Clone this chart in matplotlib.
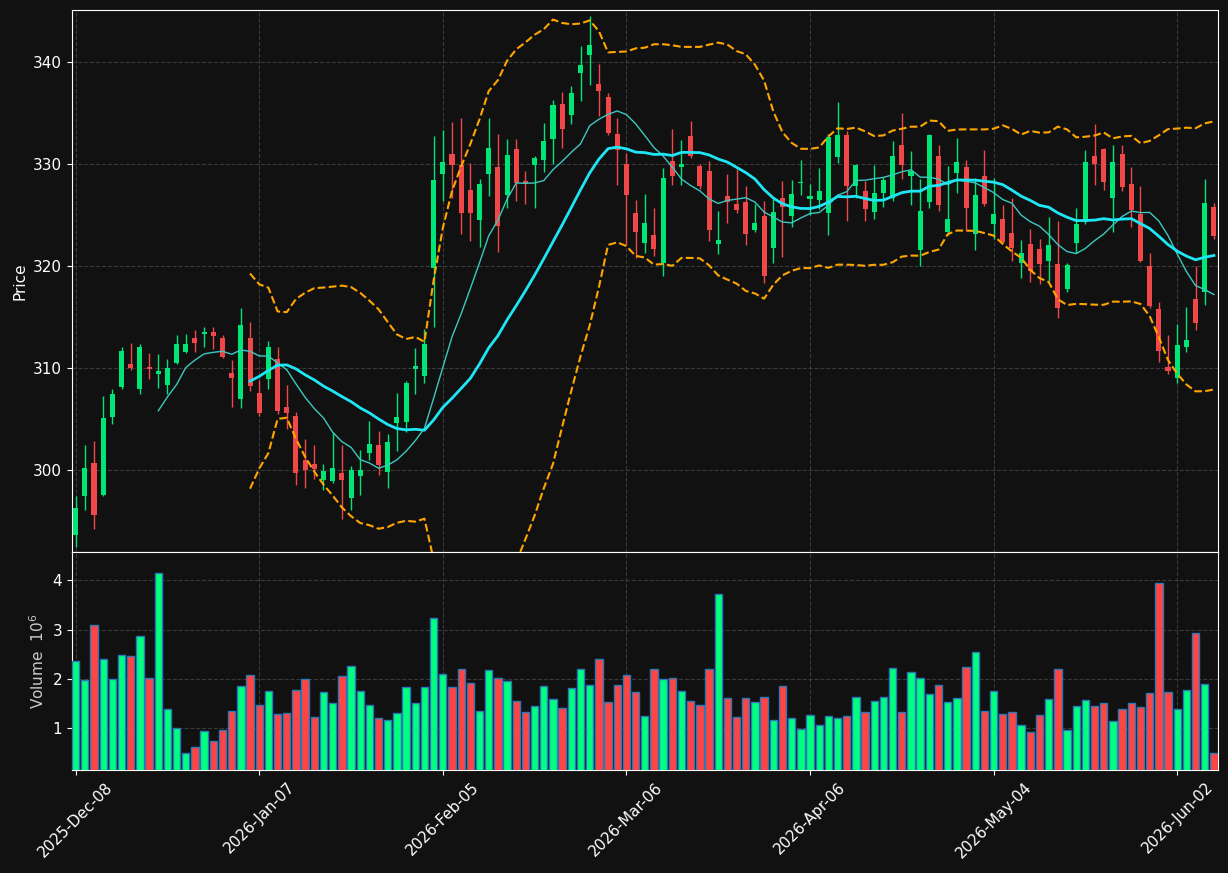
import matplotlib
matplotlib.use("Agg")
import matplotlib.pyplot as plt
import numpy as np
import pandas as pd

# OHLC
opens = [293.65, 297.48, 300.73, 297.62, 305.27, 308.13, 310.43, 307.99, 310.09, 309.47,
         308.37, 310.52, 311.57, 313.00, 313.39, 313.58, 312.96, 309.52, 307.03, 312.96,
         307.56, 308.99, 310.90, 306.22, 305.36, 301.01, 300.58, 299.05, 298.96, 299.72,
         297.33, 299.44, 301.68, 302.45, 299.87, 304.64, 304.74, 309.95, 309.23, 319.84,
         329.01, 330.97, 329.87, 327.48, 324.57, 329.01, 329.73, 327.00, 331.45, 328.34,
         329.87, 330.40, 332.50, 335.89, 334.84, 338.90, 340.72, 337.90, 336.56, 332.93,
         329.97, 325.19, 322.23, 323.04, 320.27, 330.35, 329.68, 332.74, 329.78, 329.30,
         322.18, 326.86, 326.05, 326.34, 323.52, 324.90, 321.80, 326.67, 324.90, 328.15,
         326.57, 326.53, 325.24, 330.73, 332.88, 327.86, 327.39, 325.28, 327.15, 326.72,
         331.83, 328.82, 321.60, 326.29, 330.78, 323.33, 329.15, 329.68, 323.18, 328.82,
         324.14, 324.62, 323.23, 320.32, 322.13, 321.65, 320.51, 320.17, 317.78, 322.27,
         324.33, 330.78, 331.50, 326.72, 330.97, 328.01, 325.09, 319.98, 315.78, 310.09,
         309.09, 312.10, 316.78, 317.50, 325.76]
highs = [297.48, 302.49, 302.92, 307.32, 307.99, 312.10, 312.48, 312.34, 311.52, 311.43,
         310.95, 313.24, 313.39, 313.72, 314.06, 314.06, 313.29, 310.86, 315.92, 314.58,
         308.85, 312.67, 312.05, 308.37, 305.74, 303.07, 302.49, 300.58, 303.78, 302.49,
         300.44, 302.02, 304.79, 303.88, 303.59, 307.61, 308.75, 312.00, 313.87, 332.74,
         333.31, 334.17, 334.55, 330.11, 328.53, 334.55, 332.98, 332.50, 332.50, 329.30,
         330.83, 334.08, 336.32, 337.04, 337.66, 341.58, 344.49, 339.86, 336.94, 334.55,
         331.11, 326.53, 327.10, 325.67, 329.63, 333.41, 332.40, 334.22, 329.97, 330.30,
         325.43, 329.06, 329.49, 327.86, 326.05, 326.43, 326.62, 328.39, 328.49, 330.44,
         328.01, 329.58, 332.98, 336.08, 333.22, 330.01, 328.34, 329.87, 328.77, 332.26,
         334.98, 331.30, 328.53, 332.93, 331.88, 329.82, 332.59, 330.44, 328.68, 331.40,
         328.68, 325.95, 326.72, 322.61, 323.61, 322.66, 324.85, 324.47, 320.27, 325.71,
         331.35, 333.93, 331.54, 331.88, 331.88, 329.73, 327.86, 321.27, 316.45, 313.24,
         314.34, 316.02, 319.98, 328.58, 326.24]
lows = [292.46, 296.09, 294.23, 297.48, 304.50, 307.94, 309.80, 307.51, 308.99, 308.08,
        307.51, 310.38, 311.48, 311.57, 312.05, 311.86, 311.00, 306.22, 306.08, 307.80,
        305.36, 307.99, 305.50, 304.07, 298.58, 298.24, 299.15, 298.10, 298.72, 295.23,
        296.14, 297.62, 301.06, 299.58, 298.24, 301.92, 303.78, 307.46, 308.56, 314.01,
        326.38, 326.72, 323.13, 322.51, 321.84, 326.91, 321.37, 325.67, 326.38, 326.05,
        325.67, 329.20, 329.97, 331.59, 333.93, 336.18, 337.75, 334.74, 332.83, 327.91,
        322.04, 320.79, 321.27, 321.03, 319.07, 327.96, 327.96, 330.59, 327.58, 322.51,
        321.18, 324.28, 325.19, 322.08, 323.33, 318.31, 320.27, 320.94, 323.85, 326.96,
        325.05, 325.57, 323.04, 330.11, 324.42, 326.72, 324.47, 324.62, 325.76, 326.38,
        328.53, 325.95, 319.98, 325.71, 325.38, 323.04, 327.20, 323.56, 321.60, 325.86,
        322.70, 322.32, 320.55, 318.83, 318.50, 318.21, 318.60, 314.96, 317.45, 321.32,
        324.09, 327.91, 327.43, 323.33, 327.39, 323.80, 320.41, 315.92, 310.66, 309.42,
        308.51, 311.57, 313.77, 316.21, 322.66]
closes = [296.33, 300.25, 295.66, 305.12, 307.51, 311.67, 310.04, 312.05, 309.95, 309.71,
          310.00, 312.34, 312.34, 312.43, 313.58, 313.20, 311.09, 309.09, 314.20, 308.28,
          305.60, 312.05, 305.84, 305.60, 299.77, 300.01, 300.10, 299.91, 300.20, 299.05,
          300.01, 300.01, 302.54, 300.49, 302.73, 305.27, 308.56, 310.23, 312.38, 328.44,
          330.21, 329.92, 325.19, 325.24, 328.06, 331.54, 323.90, 330.87, 328.20, 328.10,
          330.59, 332.26, 335.80, 333.45, 336.94, 339.76, 341.72, 337.13, 333.07, 331.40,
          327.00, 323.33, 324.28, 321.65, 328.63, 328.82, 330.06, 330.83, 327.82, 323.52,
          322.56, 326.34, 325.48, 323.13, 324.28, 319.03, 325.28, 325.81, 327.10, 328.29,
          326.86, 327.34, 332.64, 332.88, 327.86, 329.92, 325.62, 327.20, 328.44, 330.78,
          329.87, 329.30, 325.38, 332.83, 326.00, 324.62, 330.25, 325.71, 326.96, 326.05,
          325.09, 322.42, 321.75, 321.27, 319.50, 320.22, 322.04, 315.92, 320.08, 324.09,
          330.21, 329.97, 328.25, 330.21, 327.77, 325.52, 320.51, 316.11, 311.71, 309.76,
          312.24, 312.77, 314.44, 326.24, 322.99]
# volume in millions
volumes = [2.37, 1.98, 3.09, 2.41, 2.00, 2.49, 2.47, 2.87, 2.02, 4.15, 1.39, 1.00,
           0.50, 0.63, 0.95, 0.75, 0.97, 1.35, 1.85, 2.08, 1.47, 1.75, 1.30,
           1.32, 1.77, 2.00, 1.24, 1.73, 1.52, 2.07, 2.26, 1.75, 1.47, 1.22,
           1.18, 1.31, 1.83, 1.52, 1.83, 3.24, 2.10, 1.83, 2.20, 1.92, 1.35, 2.18,
           2.02, 1.96, 1.55, 1.33, 1.45, 1.85, 1.59, 1.41, 1.81, 2.20, 1.87, 2.41,
           1.54, 1.87, 2.08, 1.73, 1.26, 2.20, 2.00, 2.02, 1.75, 1.56, 1.47,
           2.20, 3.72, 1.61, 1.23, 1.61, 1.53, 1.63, 1.17, 1.85, 1.21, 0.98, 1.27,
           1.08, 1.25, 1.21, 1.25, 1.63, 1.33, 1.55, 1.63, 2.22, 1.33, 2.14,
           2.02, 1.69, 1.87, 1.53, 1.61, 2.24, 2.54, 1.35, 1.75, 1.29, 1.33, 1.08,
           0.92, 1.27, 1.59, 2.20, 0.96, 1.45, 1.57, 1.45, 1.51, 1.15,
           1.39, 1.51, 1.43, 1.71, 3.94, 1.73, 1.39, 1.77, 2.93, 1.90, 0.50]

holidays = ["2025-12-25", "2026-01-01", "2026-01-19", "2026-02-16", "2026-04-03", "2026-05-25"]
dates = pd.bdate_range("2025-12-08", periods=len(closes), freq="C", holidays=holidays)

df = pd.DataFrame({"open": opens, "high": highs, "low": lows, "close": closes,
                   "volume": volumes}, index=dates)
df["ma10"] = df["close"].rolling(10).mean()
df["ma20"] = df["close"].rolling(20).mean()
sd = df["close"].rolling(20).std(ddof=0)
df["upper"] = df["ma20"] + 2 * sd
df["lower"] = df["ma20"] - 2 * sd

bg = "#111111"
up_c, down_c = "#00e676", "#f04848"
vup_c, vdown_c = "#00ff80", "#ff4444"

fig = plt.figure(figsize=(12.28, 8.73), dpi=100, facecolor=bg)
ax = fig.add_axes([0.0586, 0.3677, 0.9333, 0.6208], facecolor=bg)
axv = fig.add_axes([0.0586, 0.118, 0.9333, 0.2497], facecolor=bg, sharex=ax)

x = np.arange(len(df))
up = df["close"] >= df["open"]
ccol = np.where(up, up_c, down_c)

ax.vlines(x, df["low"], df["high"], colors=ccol, linewidth=1, zorder=2)
ax.bar(x, (df["close"] - df["open"]).abs(), bottom=np.minimum(df["open"], df["close"]),
       width=0.55, color=ccol, zorder=3)

ax.plot(x, df["ma10"], color="#3cc8c0", linewidth=1, zorder=4)
ax.plot(x, df["ma20"], color="#1ee6f5", linewidth=2, zorder=4)
ax.plot(x, df["upper"], color="#ffa500", linestyle="--", linewidth=1.5, zorder=4)
ax.plot(x, df["lower"], color="#ffa500", linestyle="--", linewidth=1.5, zorder=4)

vcol = np.where(up, vup_c, vdown_c)
axv.bar(x, df["volume"], width=0.8, color=vcol, edgecolor="#2a78b8", linewidth=1, zorder=3)

ax.set_xlim(-0.4, len(df) - 0.55)
ax.set_ylim(292.0, 345.1)
axv.set_ylim(0.16, 4.57)

for a in (ax, axv):
    a.grid(True, color="#3a3a3a", linestyle="--", linewidth=0.8)
    a.set_axisbelow(True)
    for s in a.spines.values():
        s.set_color("white")
    a.tick_params(colors="white", labelsize=11)

ax.set_yticks([300, 310, 320, 330, 340])
axv.set_yticks([1, 2, 3, 4])
ticks = list(range(0, len(df), 20))
axv.set_xticks(ticks)
axv.set_xticklabels([dates[i].strftime("%Y-%b-%d") for i in ticks], rotation=45,
                    ha="center")
plt.setp(ax.get_xticklabels(), visible=False)
ax.tick_params(axis="x", length=0)

ax.set_ylabel("Price", color="white", fontsize=11)
axv.set_ylabel(r"Volume  $10^{6}$", color="#cccccc", fontsize=11)

fig.savefig("out.png", facecolor=bg)
